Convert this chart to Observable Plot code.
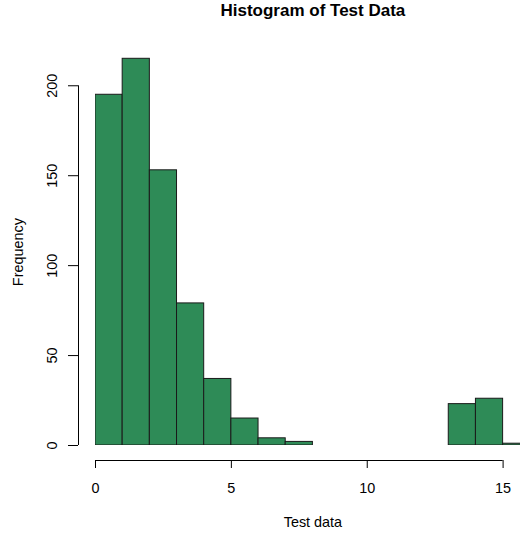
<!DOCTYPE html>
<html>
<head>
<meta charset="utf-8">
<script src="https://cdn.jsdelivr.net/npm/d3@7"></script>
<script src="https://cdn.jsdelivr.net/npm/@observablehq/plot@0.6"></script>
<style>
  html, body { margin: 0; padding: 0; background: #fff; }
  #chart svg { display: block; }
</style>
</head>
<body>
<div id="chart"></div>
<script>
// Histogram bins (width 1) and their counts
const binEdges = [0, 1, 2, 3, 4, 5, 6, 7, 8, 9, 10, 11, 12, 13, 14, 15, 16];
const counts   = [195, 215, 153, 79, 37, 15, 4, 2, 0, 0, 0, 0, 0, 23, 26, 1];
const xTicks = [0, 5, 10, 15];
const yTicks = [0, 50, 100, 150, 200];
const title = "Histogram of Test Data";
const xLabel = "Test data";
const yLabel = "Frequency";

const bins = counts.map((c, i) => ({x1: binEdges[i], x2: binEdges[i + 1], count: c}));
const xMid = (binEdges[0] + binEdges[binEdges.length - 1]) / 2;
const yMid = d3.max(counts) / 2;

const W = 520, H = 533;
const marginLeft = 95, marginRight = 0, marginTop = 49.3, marginBottom = 88;
const font = "'Liberation Sans', Arial, Helvetica, sans-serif";
const labelSize = 14.4;

const chart = Plot.plot({
  width: W,
  height: H,
  marginLeft, marginRight, marginTop, marginBottom,
  style: {fontFamily: font, fontSize: labelSize + "px", color: "#000", background: "#fff"},
  x: {domain: [0, 15.64], axis: null},
  y: {domain: [0, 220], axis: null},
  marks: [
    Plot.ruleY([0], {x1: binEdges[0], x2: binEdges[binEdges.length - 1], stroke: "#555", strokeWidth: 1, clip: true}),
    Plot.rectY(bins, {x1: "x1", x2: "x2", y: "count", fill: "#2E8B57", stroke: "#1a1a1a", strokeWidth: 1, clip: true}),
    // x axis (R style, offset below the plot)
    Plot.ruleY([0], {x1: xTicks[0], x2: xTicks[xTicks.length - 1], dy: 15, stroke: "#000"}),
    Plot.axisX(xTicks, {tickSize: 8, dy: 15, tickFormat: () => "", label: null, stroke: "#000"}),
    Plot.text(xTicks, {x: d => d, text: d => String(d), frameAnchor: "bottom", dy: 42.5, textAnchor: "middle", lineAnchor: "middle", fontSize: labelSize, fill: "#000"}),
    // y axis (R style, offset left of the plot)
    Plot.ruleX([0], {x: 0, y1: yTicks[0], y2: yTicks[yTicks.length - 1], dx: -17, stroke: "#000"}),
    Plot.axisY(yTicks, {tickSize: 10, dx: -17, tickFormat: () => "", label: null, stroke: "#000"}),
    Plot.text(yTicks, {y: d => d, text: d => String(d), frameAnchor: "left", dx: -43.3, rotate: -90, textAnchor: "middle", lineAnchor: "middle", fontSize: labelSize, fill: "#000"}),
    // labels and title
    Plot.text([xLabel], {x: xMid, frameAnchor: "bottom", dy: 77, textAnchor: "middle", lineAnchor: "middle", fontSize: labelSize, fill: "#000"}),
    Plot.text([yLabel], {y: yMid, frameAnchor: "left", dx: -77.5, rotate: -90, textAnchor: "middle", lineAnchor: "middle", fontSize: labelSize, fill: "#000"}),
    Plot.text([title], {x: xMid, frameAnchor: "top", dy: -39.3, textAnchor: "middle", lineAnchor: "middle", fontSize: 17, fontWeight: "bold", fill: "#000"})
  ]
});
document.getElementById("chart").appendChild(chart);
</script>
</body>
</html>
